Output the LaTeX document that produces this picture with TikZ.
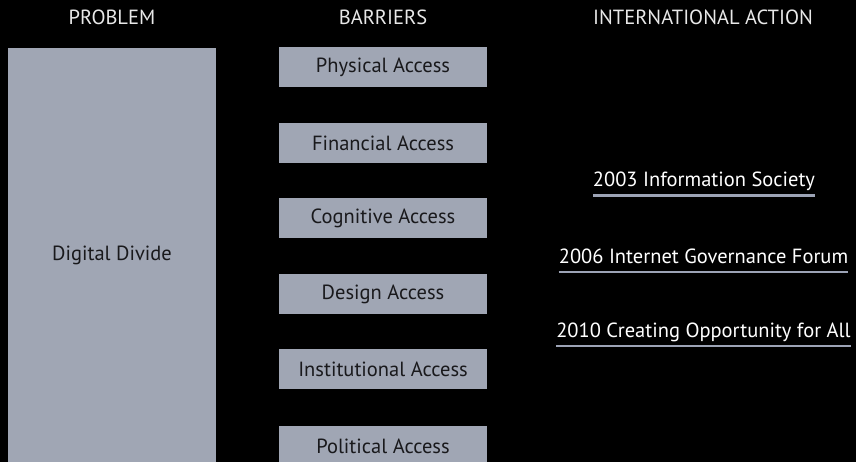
\documentclass[tikz,border=0pt]{standalone}
\usepackage{fontspec}
\setmainfont{PT Sans}
\definecolor{boxgray}{RGB}{160,166,180}
\definecolor{linegray}{RGB}{156,163,181}
\definecolor{headwhite}{RGB}{232,232,232}
\definecolor{boxtext}{RGB}{25,25,28}
\begin{document}
\begin{tikzpicture}[x=1pt,y=-1pt,
  head/.style = {text=headwhite,anchor=base,inner sep=0pt,font=\fontsize{20.5}{24}\selectfont},
  barrier/.style = {fill=boxgray,text=boxtext,inner sep=0pt,minimum width=208pt,minimum height=40pt,font=\fontsize{20.5}{24}\selectfont},
  action/.style = {text=white,anchor=base,inner sep=0pt,font=\fontsize{20.5}{24}\selectfont},
  underline/.style = {linegray,line width=2.2pt}]
    \fill[black] (0,0) rectangle (856,462);
    \useasboundingbox (0,0) rectangle (856,462);

    \node[head] (problem) at (112,24.3) {PROBLEM};
    \node[head] (barriers) at (383,24.3) {BARRIERS};
    \node[head] (intl) at (703,24.3) {INTERNATIONAL ACTION};

    \node[fill=boxgray,text=boxtext,inner sep=0pt,minimum width=208pt,minimum height=414pt,
          font=\fontsize{20.5}{24}\selectfont] (divide) at (112,255) {Digital Divide};

    \node[barrier] (physical) at (383,67.5) {Physical Access};
    \node[barrier] (financial) at (383,143.5) {Financial Access};
    \node[barrier] (cognitive) at (383,218.5) {Cognitive Access};
    \node[barrier] (design) at (383,294) {Design Access};
    \node[barrier] (institutional) at (383,369) {Institutional Access};
    \node[barrier] (political) at (383,446) {Political Access};

    \node[action] (wsis) at (704,187) {2003 Information Society};
    \node[action] (igf) at (703.5,263) {2006 Internet Governance Forum};
    \node[action] (cofa) at (703.5,337) {2010 Creating Opportunity for All};

    \draw[underline] ([yshift=-8.5pt]wsis.base west) -- ([yshift=-8.5pt]wsis.base east);
    \draw[underline] ([yshift=-9pt]igf.base west) -- ([yshift=-9pt]igf.base east);
    \draw[underline] ([yshift=-9pt]cofa.base west) -- ([yshift=-9pt]cofa.base east);
\end{tikzpicture}
\end{document}
